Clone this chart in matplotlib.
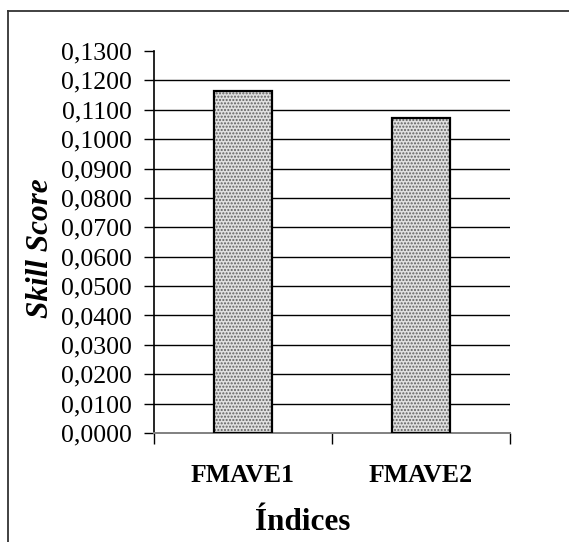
import matplotlib
matplotlib.use("Agg")
import matplotlib.pyplot as plt
from matplotlib.lines import Line2D
import numpy as np

categories = ["FMAVE1", "FMAVE2"]
values = [0.1163, 0.1071]
yticks = [i / 100 for i in range(0, 14)]
ytick_labels = [f"{t:.4f}".replace(".", ",") for t in yticks]

W, H = 569, 542
fig = plt.figure(figsize=(W / 100, H / 100), dpi=100)
fig.patch.set_facecolor("white")

ax = fig.add_axes([154 / W, 1 - 433 / H, 356 / W, (433 - 51) / H])
x = np.arange(len(categories))

# hatch layer
ax.bar(x, values, width=0.33, color="#e0e0e0", edgecolor="#606060",
       hatch=".....", linewidth=0, zorder=3)
# outline layer
ax.bar(x, values, width=0.33, color="none", edgecolor="black",
       linewidth=1.6, zorder=4)

ax.set_xlim(-0.5, 1.5)
ax.set_ylim(0, 0.13)
ax.set_yticks(yticks)
ax.set_yticklabels(ytick_labels, fontfamily="Liberation Serif", fontsize=18.5)
ax.tick_params(axis="y", direction="out", length=7, width=1, pad=9, color="black")

ax.set_xticks(x)
ax.set_xticklabels(categories, fontfamily="Liberation Serif", fontsize=18.5,
                   fontweight="bold")
ax.set_xticks([-0.5, 0.5, 1.5], minor=True)
ax.tick_params(axis="x", which="major", length=0, pad=22)
ax.tick_params(axis="x", which="minor", length=8, width=1, direction="out")

ax.grid(axis="y", color="black", linewidth=1.0, zorder=1)
ax.set_axisbelow(True)
glines = ax.get_ygridlines()
glines[-1].set_visible(False)
glines[0].set_visible(False)

for s in ["top", "right"]:
    ax.spines[s].set_visible(False)
ax.spines["left"].set_color("black")
ax.spines["left"].set_linewidth(1.2)
ax.spines["bottom"].set_color("#808080")
ax.spines["bottom"].set_linewidth(1.4)

fig.text(40 / W, 1 - 248 / H, "Skill Score", rotation=90, ha="center", va="center",
         fontfamily="Liberation Serif", fontsize=22.5, fontweight="bold", fontstyle="italic")
fig.text(303 / W, 1 - 523 / H, "Índices", ha="center", va="center",
         fontfamily="Liberation Serif", fontsize=22.5, fontweight="bold")

# outer frame
fig.add_artist(Line2D([8 / W, 1], [1 - 11 / H, 1 - 11 / H], transform=fig.transFigure,
                      color="#333333", linewidth=1.3))
fig.add_artist(Line2D([8 / W, 8 / W], [0, 1 - 11 / H], transform=fig.transFigure,
                      color="#333333", linewidth=1.3))

fig.savefig("out.png", dpi=100, facecolor="white")
